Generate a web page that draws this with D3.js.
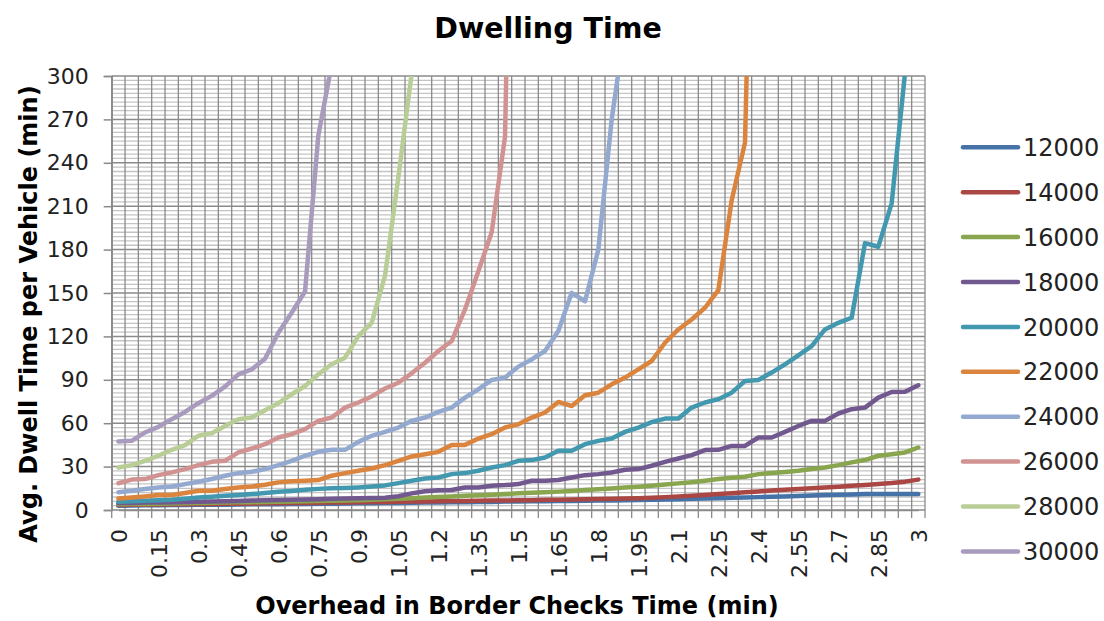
<!DOCTYPE html>
<html>
<head>
<meta charset="utf-8">
<script src="https://cdn.jsdelivr.net/npm/d3@7"></script>
<style>
  body { margin: 0; background: #fff; }
  .tick text { font-family: "DejaVu Sans", sans-serif; fill: #222; }
</style>
</head>
<body>
<div class="chart"></div>
<script>
// x categories: overhead in border checks time (min), step 0.05
var xValues = d3.range(61).map(function(i) { return Math.round(i * 5) / 100; });
var xTickLabels = ["0", "0.15", "0.3", "0.45", "0.6", "0.75", "0.9", "1.05", "1.2", "1.35", "1.5",
  "1.65", "1.8", "1.95", "2.1", "2.25", "2.4", "2.55", "2.7", "2.85", "3"];
var yTickValues = [0, 30, 60, 90, 120, 150, 180, 210, 240, 270, 300];

var seriesNames = ["12000", "14000", "16000", "18000", "20000", "22000", "24000", "26000", "28000", "30000"];

// values; series stop at the first point above the 300 axis max
var s12000 = [3.0,3.1,3.2,3.3,3.4,3.5,3.6,3.6,3.7,3.8,
  3.9,4.0,4.0,4.1,4.2,4.3,4.4,4.5,4.6,4.7,
  4.8,4.9,5.0,5.1,5.2,5.3,5.4,5.5,5.6,5.8,
  5.9,6.0,6.1,6.2,6.3,6.4,6.5,6.6,6.7,6.9,
  7.1,7.3,7.5,7.7,7.9,8.1,8.4,8.6,8.9,9.1,
  9.4,9.7,10.0,10.3,10.6,10.8,11.0,11.0,11.1,11.1,11.1];
var s14000 = [3.5,3.6,3.7,3.8,3.9,4.0,4.1,4.2,4.3,4.4,
  4.5,4.6,4.7,4.8,4.9,5.0,5.1,5.2,5.4,5.5,
  5.6,5.7,5.8,5.9,6.0,6.2,6.3,6.4,6.5,6.6,
  6.7,6.8,7.0,7.1,7.3,7.4,7.6,7.8,8.0,8.2,
  8.5,8.9,9.4,9.9,10.4,11.0,11.6,12.2,12.8,13.4,
  14.0,14.5,15.0,15.5,16.1,16.7,17.3,17.9,18.6,19.6,21.0];
var s16000 = [4.0,4.1,4.2,4.4,4.5,4.7,4.8,5.0,5.1,5.3,
  5.4,5.6,5.7,5.9,6.0,6.2,6.4,6.6,6.8,7.0,
  7.5,7.8,8.2,8.6,9.0,9.4,9.8,10.2,10.6,11.0,
  11.5,11.9,12.3,12.7,13.2,13.8,14.3,14.9,15.5,16.1,
  16.8,17.6,18.4,19.2,20.2,21.4,22.3,23.0,24.8,25.5,
  26.3,27.1,28.3,29.4,31.0,32.9,34.5,37.5,38.6,39.8,43.2];
var s18000 = [4.8,4.9,5.1,5.2,5.4,5.6,5.7,5.9,6.1,6.3,
  6.5,6.7,6.9,7.1,7.3,7.5,7.7,7.9,8.1,8.3,
  8.5,9.5,11.5,13.0,13.6,13.8,15.6,15.6,16.8,17.2,
  17.9,20.2,20.2,20.7,22.5,24.1,24.8,25.9,27.8,28.3,
  30.6,33.3,35.6,37.9,41.4,41.6,44.3,44.3,50.1,50.1,
  54.0,58.1,61.6,61.6,66.7,69.7,70.8,77.7,81.6,81.8,86.2];
var s20000 = [5.7,6.0,6.4,6.8,7.1,7.8,8.7,9.2,9.9,10.4,
  11.0,11.8,12.6,13.2,14.0,14.6,15.0,15.2,15.6,16.2,
  17.0,18.6,20.2,21.8,22.5,24.8,25.5,27.1,29.4,31.0,
  34.0,34.5,36.3,40.9,40.9,45.5,47.8,49.4,54.0,57.0,
  60.7,63.2,63.2,70.8,74.3,76.6,81.1,89.2,89.9,95.0,
  100.7,106.9,113.3,124.8,129.4,132.9,184.5,182.0,212.0,302.0];
var s22000 = [8.0,8.7,9.4,10.3,10.3,11.7,13.3,13.3,14.5,15.6,
  16.3,17.5,19.1,19.8,20.2,20.7,23.7,25.5,27.1,28.7,
  31.0,34.0,37.0,38.6,40.2,45.0,45.0,49.4,52.4,57.0,
  59.3,63.9,67.4,74.7,71.9,79.3,81.1,86.9,91.5,97.2,
  103.0,115.6,124.8,131.7,139.8,152.0,214.0,254.0,636.0];
var s24000 = [12.2,13.3,14.5,15.6,16.3,17.9,19.5,21.4,23.7,25.5,
  26.4,28.3,31.0,34.0,37.5,40.2,41.6,41.6,47.1,51.3,
  54.0,57.0,61.6,63.9,67.8,70.8,77.7,83.4,89.9,91.5,
  99.1,104.1,109.9,123.7,150.1,144.3,180.0,270.0,334.0];
var s26000 = [18.5,21.0,21.4,24.1,26.0,28.3,31.0,33.3,34.0,39.8,
  42.5,45.5,50.1,52.4,55.9,61.6,63.9,70.8,74.3,78.5,
  84.0,88.0,94.5,101.8,109.9,116.8,138.6,165.0,192.0,258.0,715.0];
var s28000 = [29.4,31.0,34.0,37.5,41.6,44.8,51.3,53.1,58.1,62.8,
  63.9,69.0,73.8,80.0,85.7,93.8,100.7,105.3,120.2,129.4,
  162.0,230.0,302.0];
var s30000 = [47.4,47.8,53.6,57.5,62.8,67.8,73.8,78.9,85.3,93.8,
  97.2,104.6,122.5,136.3,151.0,259.0,308.0];

var seriesValues = [s12000, s14000, s16000, s18000, s20000, s22000, s24000, s26000, s28000, s30000];
var colors = ["#4572a7", "#aa4643", "#89a54e", "#71588f", "#4198af",
  "#db843d", "#93a9cf", "#d19392", "#b9cd96", "#a99bbd"];

var svgWidth = 1104;
var svgHeight = 621;
var margin = { top: 76, right: 179, bottom: 111, left: 111.7 };
var width = svgWidth - margin.left - margin.right;
var height = svgHeight - margin.top - margin.bottom;

var svg = d3.select(".chart")
  .append("svg")
  .attr("width", svgWidth)
  .attr("height", svgHeight);

var chartGroup = svg.append("g")
  .attr("transform", `translate(${margin.left}, ${margin.top})`);

// one band per category, point drawn in the middle of its band
var xBand = d3.scaleBand()
  .domain(xValues)
  .range([0, width]);
var xPos = function(v) { return xBand(v) + xBand.bandwidth() / 2; };

var yLinearScale = d3.scaleLinear()
  .domain([0, 300])
  .range([height, 0]);

// minor horizontal gridlines every 3
chartGroup.append("g")
  .selectAll("line")
  .data(d3.range(3, 300, 3).filter(function(v) { return v % 30 !== 0; }))
  .enter().append("line")
  .attr("x1", 0)
  .attr("x2", width)
  .attr("y1", d => yLinearScale(d))
  .attr("y2", d => yLinearScale(d))
  .attr("stroke", "#c4c4c4")
  .attr("stroke-width", 1.3);

// vertical gridlines at band edges
var bandEdges = xValues.map(v => xBand(v)).concat([width]);
chartGroup.append("g")
  .selectAll("line")
  .data(bandEdges)
  .enter().append("line")
  .attr("x1", d => d)
  .attr("x2", d => d)
  .attr("y1", 0)
  .attr("y2", height)
  .attr("stroke", "#8a8a8a")
  .attr("stroke-width", 1.3);

// major horizontal gridlines
chartGroup.append("g")
  .selectAll("line")
  .data(yTickValues)
  .enter().append("line")
  .attr("x1", 0)
  .attr("x2", width)
  .attr("y1", d => yLinearScale(d))
  .attr("y2", d => yLinearScale(d))
  .attr("stroke", "#8a8a8a")
  .attr("stroke-width", 1.5);

// y axis
var leftAxis = d3.axisLeft(yLinearScale)
  .tickValues(yTickValues)
  .tickSize(8)
  .tickPadding(15);
var yAxisGroup = chartGroup.append("g").call(leftAxis);
yAxisGroup.select(".domain").attr("stroke", "#8a8a8a").attr("stroke-width", 1.5);
yAxisGroup.selectAll(".tick line").attr("stroke", "#8a8a8a").attr("stroke-width", 1.5);
yAxisGroup.selectAll("text")
  .style("font-size", "22px");

// x axis: tick marks between categories, labels every 0.15
chartGroup.append("g")
  .selectAll("line")
  .data(bandEdges)
  .enter().append("line")
  .attr("x1", d => d)
  .attr("x2", d => d)
  .attr("y1", height)
  .attr("y2", height + 8)
  .attr("stroke", "#8a8a8a")
  .attr("stroke-width", 1.3);

var xLabelScale = d3.scalePoint()
  .domain(xValues)
  .range([xPos(xValues[0]), xPos(xValues[xValues.length - 1])]);
var bottomAxis = d3.axisBottom(xLabelScale)
  .tickValues(xValues.filter((v, i) => i % 3 === 0))
  .tickSize(0)
  .tickFormat((d, i) => xTickLabels[i]);
var xAxisGroup = chartGroup.append("g")
  .attr("transform", `translate(0, ${height})`)
  .call(bottomAxis);
xAxisGroup.select(".domain").attr("stroke", "#8a8a8a").attr("stroke-width", 1.5);
xAxisGroup.selectAll("text")
  .style("font-size", "22px")
  .attr("y", 0)
  .attr("x", -19)
  .attr("dy", "0.35em")
  .attr("transform", "rotate(-90)")
  .style("text-anchor", "end");

// lines, clipped to the plot area
svg.append("defs").append("clipPath")
  .attr("id", "plotClip")
  .append("rect")
  .attr("x", 0)
  .attr("y", 0)
  .attr("width", width)
  .attr("height", height);

var drawLine = d3.line()
  .x((d, i) => xPos(xValues[i]))
  .y(d => yLinearScale(d));

chartGroup.append("g")
  .attr("clip-path", "url(#plotClip)")
  .selectAll("path")
  .data(seriesValues)
  .enter().append("path")
  .attr("d", d => drawLine(d))
  .attr("fill", "none")
  .attr("stroke", (d, i) => colors[i])
  .attr("stroke-width", 4.5)
  .attr("stroke-linejoin", "round")
  .attr("stroke-linecap", "round");

// legend
var legend = svg.append("g")
  .selectAll("g")
  .data(seriesNames)
  .enter().append("g")
  .attr("transform", (d, i) => `translate(963, ${147.3 + i * 44.9})`);

legend.append("line")
  .attr("x1", 0)
  .attr("x2", 55)
  .attr("stroke", (d, i) => colors[i])
  .attr("stroke-width", 4.5)
  .attr("stroke-linecap", "round");

legend.append("text")
  .attr("x", 60)
  .attr("dy", "0.36em")
  .attr("font-family", "DejaVu Sans, sans-serif")
  .attr("font-size", 24)
  .attr("fill", "#222")
  .text(d => d);

// titles
svg.append("text")
  .attr("x", 548)
  .attr("y", 38)
  .attr("text-anchor", "middle")
  .attr("font-family", "DejaVu Sans, sans-serif")
  .attr("font-weight", "bold")
  .attr("font-size", 28.5)
  .text("Dwelling Time");

svg.append("text")
  .attr("x", 517)
  .attr("y", 614)
  .attr("text-anchor", "middle")
  .attr("font-family", "DejaVu Sans, sans-serif")
  .attr("font-weight", "bold")
  .attr("font-size", 24)
  .text("Overhead in Border Checks Time (min)");

svg.append("text")
  .attr("transform", "translate(37, 314) rotate(-90)")
  .attr("text-anchor", "middle")
  .attr("font-family", "DejaVu Sans, sans-serif")
  .attr("font-weight", "bold")
  .attr("font-size", 24)
  .text("Avg. Dwell Time per Vehicle (min)");
</script>
</body>
</html>
